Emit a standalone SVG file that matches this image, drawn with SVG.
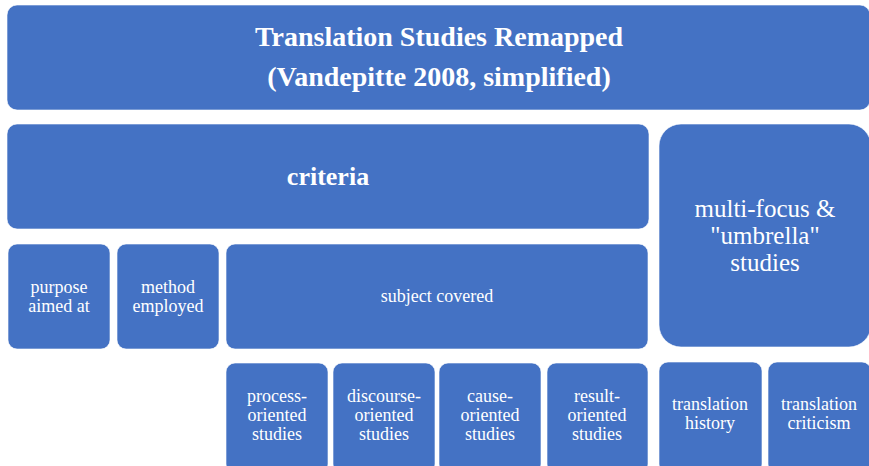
<svg xmlns="http://www.w3.org/2000/svg" width="869" height="466" viewBox="0 0 869 466">
  <style>
    .box { fill: #4472C4; stroke: #ffffff; stroke-opacity: 0.6; stroke-width: 1; }
    text { font-family: "Liberation Serif", "Times New Roman", "DejaVu Serif", serif; fill: #ffffff; text-anchor: middle; }
    .title { font-size: 28px; font-weight: bold; }
    .head { font-size: 26px; font-weight: bold; }
    .big { font-size: 25px; }
    .sm { font-size: 18px; }
  </style>
  <rect width="869" height="466" fill="#ffffff"/>

  <g id="title">
    <rect class="box" x="7" y="5" width="863" height="105" rx="10"/>
    <text class="title" x="439" y="46">Translation Studies Remapped</text>
    <text class="title" x="439" y="86">(Vandepitte 2008, simplified)</text>
  </g>

  <g id="criteria">
    <rect class="box" x="7" y="124" width="642" height="105" rx="10"/>
    <text class="head" x="328" y="185">criteria</text>
  </g>

  <g id="multi-focus">
    <rect class="box" x="659" y="124" width="212" height="223" rx="22"/>
    <text class="big" x="765" y="217">multi-focus &amp;</text>
    <text class="big" x="765" y="244">"umbrella"</text>
    <text class="big" x="765" y="271">studies</text>
  </g>

  <g id="purpose">
    <rect class="box" x="8" y="244" width="102" height="105" rx="9"/>
    <text class="sm" x="59" y="293">purpose</text>
    <text class="sm" x="59" y="312">aimed at</text>
  </g>

  <g id="method">
    <rect class="box" x="117" y="244" width="102" height="105" rx="9"/>
    <text class="sm" x="168" y="293">method</text>
    <text class="sm" x="168" y="312">employed</text>
  </g>

  <g id="subject">
    <rect class="box" x="226" y="244" width="422" height="105" rx="9"/>
    <text class="sm" x="437" y="302">subject covered</text>
  </g>

  <g id="process">
    <rect class="box" x="226" y="363" width="102" height="110" rx="9"/>
    <text class="sm" x="277" y="402">process-</text>
    <text class="sm" x="277" y="421">oriented</text>
    <text class="sm" x="277" y="440">studies</text>
  </g>

  <g id="discourse">
    <rect class="box" x="333" y="363" width="102" height="110" rx="9"/>
    <text class="sm" x="384" y="402">discourse-</text>
    <text class="sm" x="384" y="421">oriented</text>
    <text class="sm" x="384" y="440">studies</text>
  </g>

  <g id="cause">
    <rect class="box" x="439" y="363" width="102" height="110" rx="9"/>
    <text class="sm" x="490" y="402">cause-</text>
    <text class="sm" x="490" y="421">oriented</text>
    <text class="sm" x="490" y="440">studies</text>
  </g>

  <g id="result">
    <rect class="box" x="547" y="363" width="101" height="110" rx="9"/>
    <text class="sm" x="597" y="402">result-</text>
    <text class="sm" x="597" y="421">oriented</text>
    <text class="sm" x="597" y="440">studies</text>
  </g>

  <g id="history">
    <rect class="box" x="659" y="362" width="103" height="111" rx="9"/>
    <text class="sm" x="710" y="410">translation</text>
    <text class="sm" x="710" y="429">history</text>
  </g>

  <g id="criticism">
    <rect class="box" x="768" y="362" width="103" height="111" rx="9"/>
    <text class="sm" x="819" y="410">translation</text>
    <text class="sm" x="819" y="429">criticism</text>
  </g>

  <!-- layout is nested blocks; no connectors drawn -->
  <g id="connectors"/>
</svg>
